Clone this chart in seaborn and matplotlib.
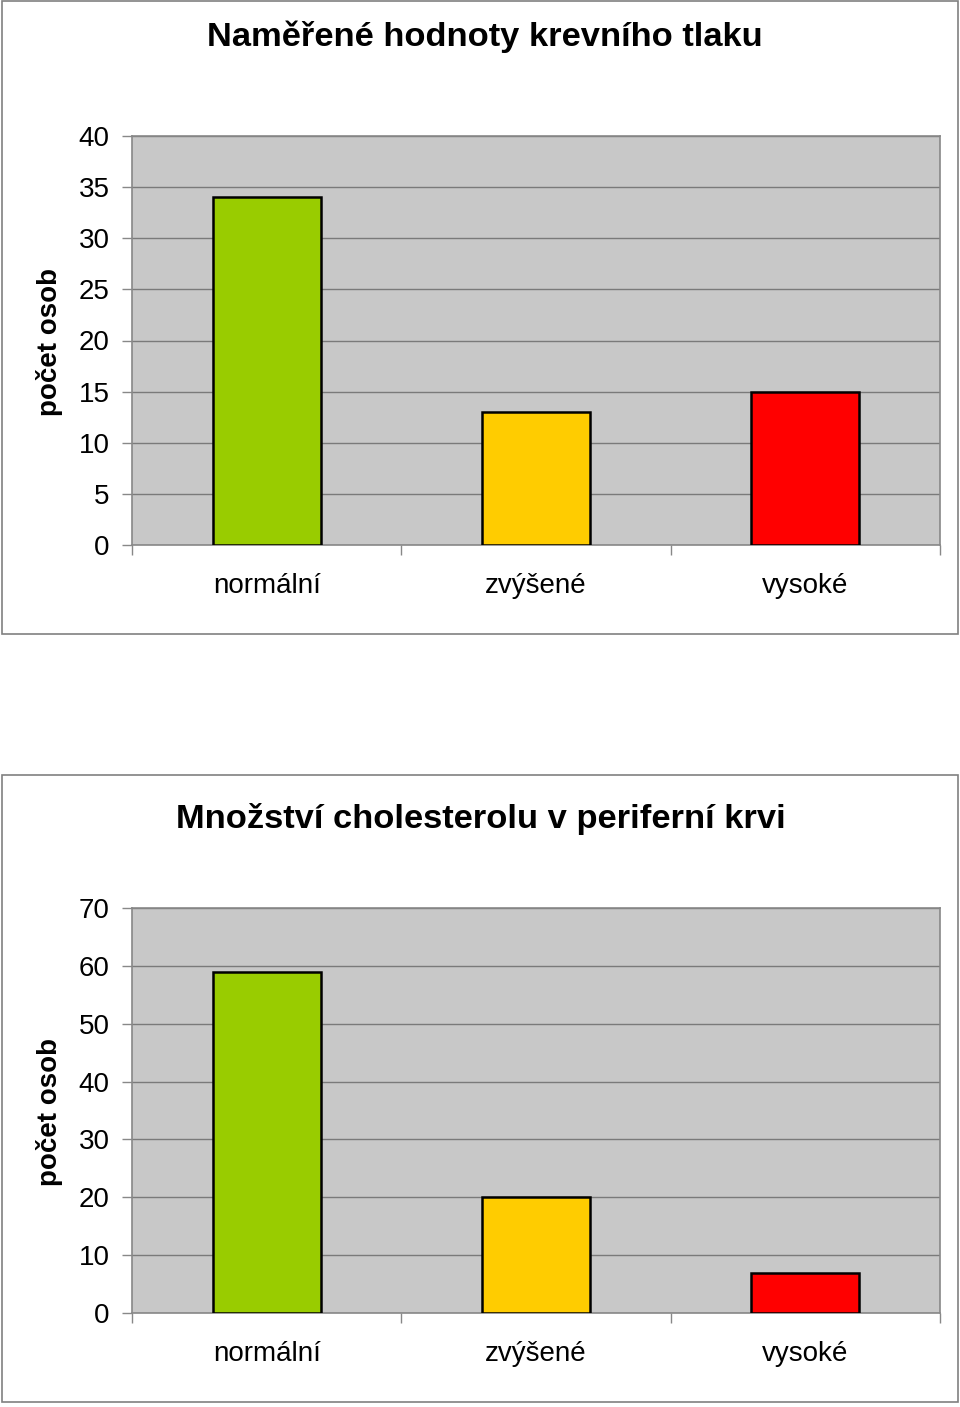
import matplotlib
matplotlib.use("Agg")
import matplotlib.pyplot as plt
import seaborn as sns
import pandas as pd
from matplotlib.patches import Rectangle
from matplotlib.ticker import MultipleLocator, FixedLocator

categories = ["normální", "zvýšené", "vysoké"]
bp_values = [34, 13, 15]
chol_values = [59, 20, 7]
colors = ["#99CC00", "#FFCC00", "#FF0000"]
titles = ["Naměřené hodnoty krevního tlaku", "Množství cholesterolu v periferní krvi"]
ylabel = "počet osob"

sns.set_theme(style="white")
plt.rcParams["font.family"] = ["Liberation Sans", "DejaVu Sans"]

W, H = 960, 1407
fig = plt.figure(figsize=(W / 100, H / 100), dpi=100)

def fx(px):
    return px / W

def fy(py):
    return 1 - py / H

# panel frames
for (y0, y1) in [(1, 634), (775, 1402)]:
    fig.patches.append(Rectangle((fx(2), fy(y1)), fx(956), (y1 - y0) / H,
                                 transform=fig.transFigure, fill=False,
                                 edgecolor="#808080", linewidth=1.2, zorder=0))

specs = [
    (bp_values, titles[0], 136, 545, 40, 5, 37, 342, 485),
    (chol_values, titles[1], 908, 1313, 70, 10, 819, 1112, 481),
]

for vals, title, ytop, ybot, ymax, step, ty, ly, tx in specs:
    ax = fig.add_axes([fx(132), fy(ybot), fx(940 - 132), (ybot - ytop) / H])
    df = pd.DataFrame({"kat": categories, "val": vals})
    sns.barplot(data=df, x="kat", y="val", hue="kat", palette=colors,
                saturation=1, width=0.4, edgecolor="black", linewidth=1.8,
                legend=False, ax=ax, zorder=3)
    ax.set_facecolor("#C8C8C8")
    ax.set_xlim(-0.5, 2.5)
    ax.set_ylim(0, ymax)
    ax.yaxis.set_major_locator(MultipleLocator(step))
    ax.grid(axis="y", color="#7A7A7A", linewidth=1.0, zorder=1)
    ax.grid(axis="x", visible=False)
    for s in ax.spines.values():
        s.set_color("#888888")
        s.set_linewidth(1.2)
    ax.set_xlabel("")
    ax.set_ylabel("")
    ax.tick_params(axis="y", which="major", left=True, length=7, width=1,
                   color="#888888", pad=9, labelsize=20, labelcolor="black")
    ax.xaxis.set_major_locator(FixedLocator([-0.5, 0.5, 1.5, 2.5]))
    ax.xaxis.set_minor_locator(FixedLocator([0, 1, 2]))
    ax.set_xticklabels([], minor=False)
    ax.set_xticklabels(categories, minor=True)
    ax.tick_params(axis="x", which="major", bottom=True, length=7, width=1,
                   color="#888888")
    ax.tick_params(axis="x", which="minor", bottom=False, length=0, pad=20,
                   labelsize=20, labelcolor="black")
    fig.text(fx(tx), fy(ty), title, ha="center", va="center",
             fontsize=24.8, fontweight="bold", color="black")
    fig.text(fx(50), fy(ly), ylabel, ha="center", va="center", rotation=90,
             fontsize=20, fontweight="bold", color="black")

fig.savefig("out.png", dpi=100, facecolor="white")
